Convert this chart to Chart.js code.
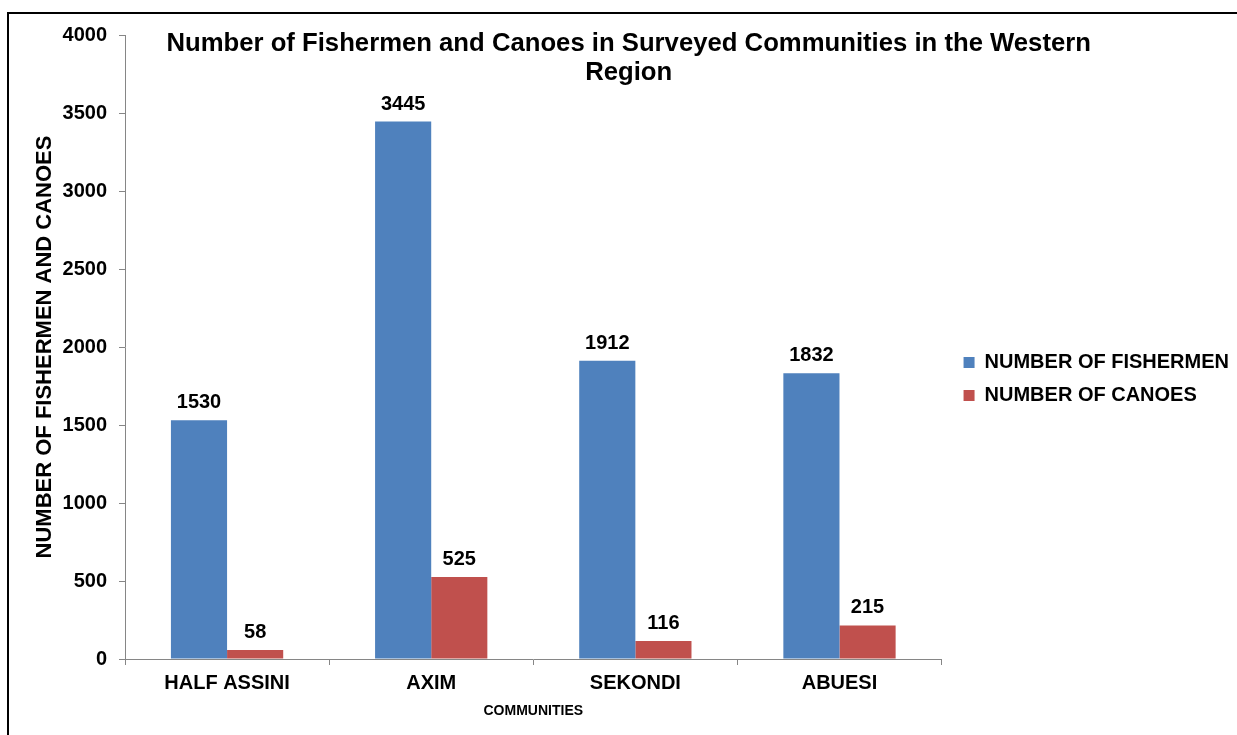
<!DOCTYPE html>
<html>
<head>
<meta charset="utf-8">
<script src="https://cdn.jsdelivr.net/npm/chart.js@4.4.0/dist/chart.umd.min.js"></script>
<style>
  html, body { margin: 0; padding: 0; background: #fff; }
  #wrap { position: relative; width: 1237px; height: 735px; overflow: hidden; }
  #frame { position: absolute; left: 7px; top: 12px; right: -10px; bottom: -10px; border-top: 2px solid #000; border-left: 2px solid #000; pointer-events: none; }
  canvas { position: absolute; left: 0; top: 0; }
</style>
</head>
<body>
<div id="wrap">
  <canvas id="c" width="1237" height="735"></canvas>
  <div id="frame"></div>
</div>
<script>
const categories = ['HALF ASSINI', 'AXIM', 'SEKONDI', 'ABUESI'];
const fishermen = [1530, 3445, 1912, 1832];
const canoes = [58, 525, 116, 215];
const seriesNames = ['NUMBER OF FISHERMEN', 'NUMBER OF CANOES'];
const titleLines = ['Number of Fishermen and Canoes in Surveyed Communities in the Western', 'Region'];
const yAxisTitle = 'NUMBER OF FISHERMEN AND CANOES';
const xAxisTitle = 'COMMUNITIES';

const FONT = '"Liberation Sans", Arial, sans-serif';
const AXIS = '#868686';

const valueLabels = {
  id: 'valueLabels',
  afterDatasetsDraw(chart) {
    const ctx = chart.ctx;
    ctx.save();
    ctx.font = 'bold 20px ' + FONT;
    ctx.fillStyle = '#000';
    ctx.textAlign = 'center';
    ctx.textBaseline = 'alphabetic';
    chart.data.datasets.forEach((ds, i) => {
      const meta = chart.getDatasetMeta(i);
      meta.data.forEach((el, j) => {
        ctx.fillText(String(ds.data[j]), el.x, el.y - 12);
      });
    });
    ctx.restore();
  }
};

const titlePlugin = {
  id: 'titlePlugin',
  afterDraw(chart) {
    const ctx = chart.ctx;
    ctx.save();
    ctx.font = 'bold 25.7px ' + FONT;
    ctx.fillStyle = '#000';
    ctx.textAlign = 'center';
    ctx.textBaseline = 'alphabetic';
    ctx.fillText(titleLines[0], 628.7, 51);
    ctx.fillText(titleLines[1], 628.7, 80);
    ctx.restore();
  }
};

const legendShift = {
  id: 'legendShift',
  afterLayout(chart) {
    const lg = chart.legend;
    if (!lg) return;
    const dx = 9, dy = -6;
    lg.left += dx; lg.right += dx;
    lg.top += dy; lg.bottom += dy;
  }
};

new Chart(document.getElementById('c'), {
  type: 'bar',
  data: {
    labels: categories,
    datasets: [
      { label: seriesNames[0], data: fishermen, backgroundColor: '#4F81BD', borderWidth: 0 },
      { label: seriesNames[1], data: canoes, backgroundColor: '#C0504D', borderWidth: 0 }
    ]
  },
  options: {
    responsive: false,
    devicePixelRatio: 1,
    animation: false,
    layout: { padding: { top: 35, left: 0, right: 7, bottom: 0 } },
    datasets: { bar: { categoryPercentage: 0.55, barPercentage: 1.0 } },
    plugins: {
      legend: {
        position: 'right',
        align: 'center',
        labels: {
          boxWidth: 11,
          boxHeight: 11,
          padding: 13,
          color: '#000',
          font: { family: FONT, size: 20, weight: 'bold' }
        }
      },
      title: { display: false },
      tooltip: { enabled: false }
    },
    scales: {
      x: {
        grid: { drawOnChartArea: false, drawTicks: true, tickLength: 6, color: AXIS, offset: true },
        border: { color: AXIS, width: 1 },
        ticks: { color: '#000', padding: 6, font: { family: FONT, size: 20, weight: 'bold' } },
        title: { display: true, text: xAxisTitle, color: '#000', padding: { top: 0, bottom: 15 }, font: { family: FONT, size: 14, weight: 'bold' } },
        afterFit(scale) { scale.height = 76; }
      },
      y: {
        min: 0,
        max: 4000,
        ticks: { stepSize: 500, color: '#000', padding: 12, font: { family: FONT, size: 20, weight: 'bold' }, callback: (v) => String(v) },
        grid: { drawOnChartArea: false, drawTicks: true, tickLength: 6, color: AXIS },
        border: { color: AXIS, width: 1 },
        title: { display: true, text: yAxisTitle, color: '#000', padding: { top: 32, bottom: 0 }, font: { family: FONT, size: 22, weight: 'bold' } },
        afterFit(scale) { scale.width = 125; }
      }
    }
  },
  plugins: [valueLabels, titlePlugin, legendShift]
});
</script>
</body>
</html>
